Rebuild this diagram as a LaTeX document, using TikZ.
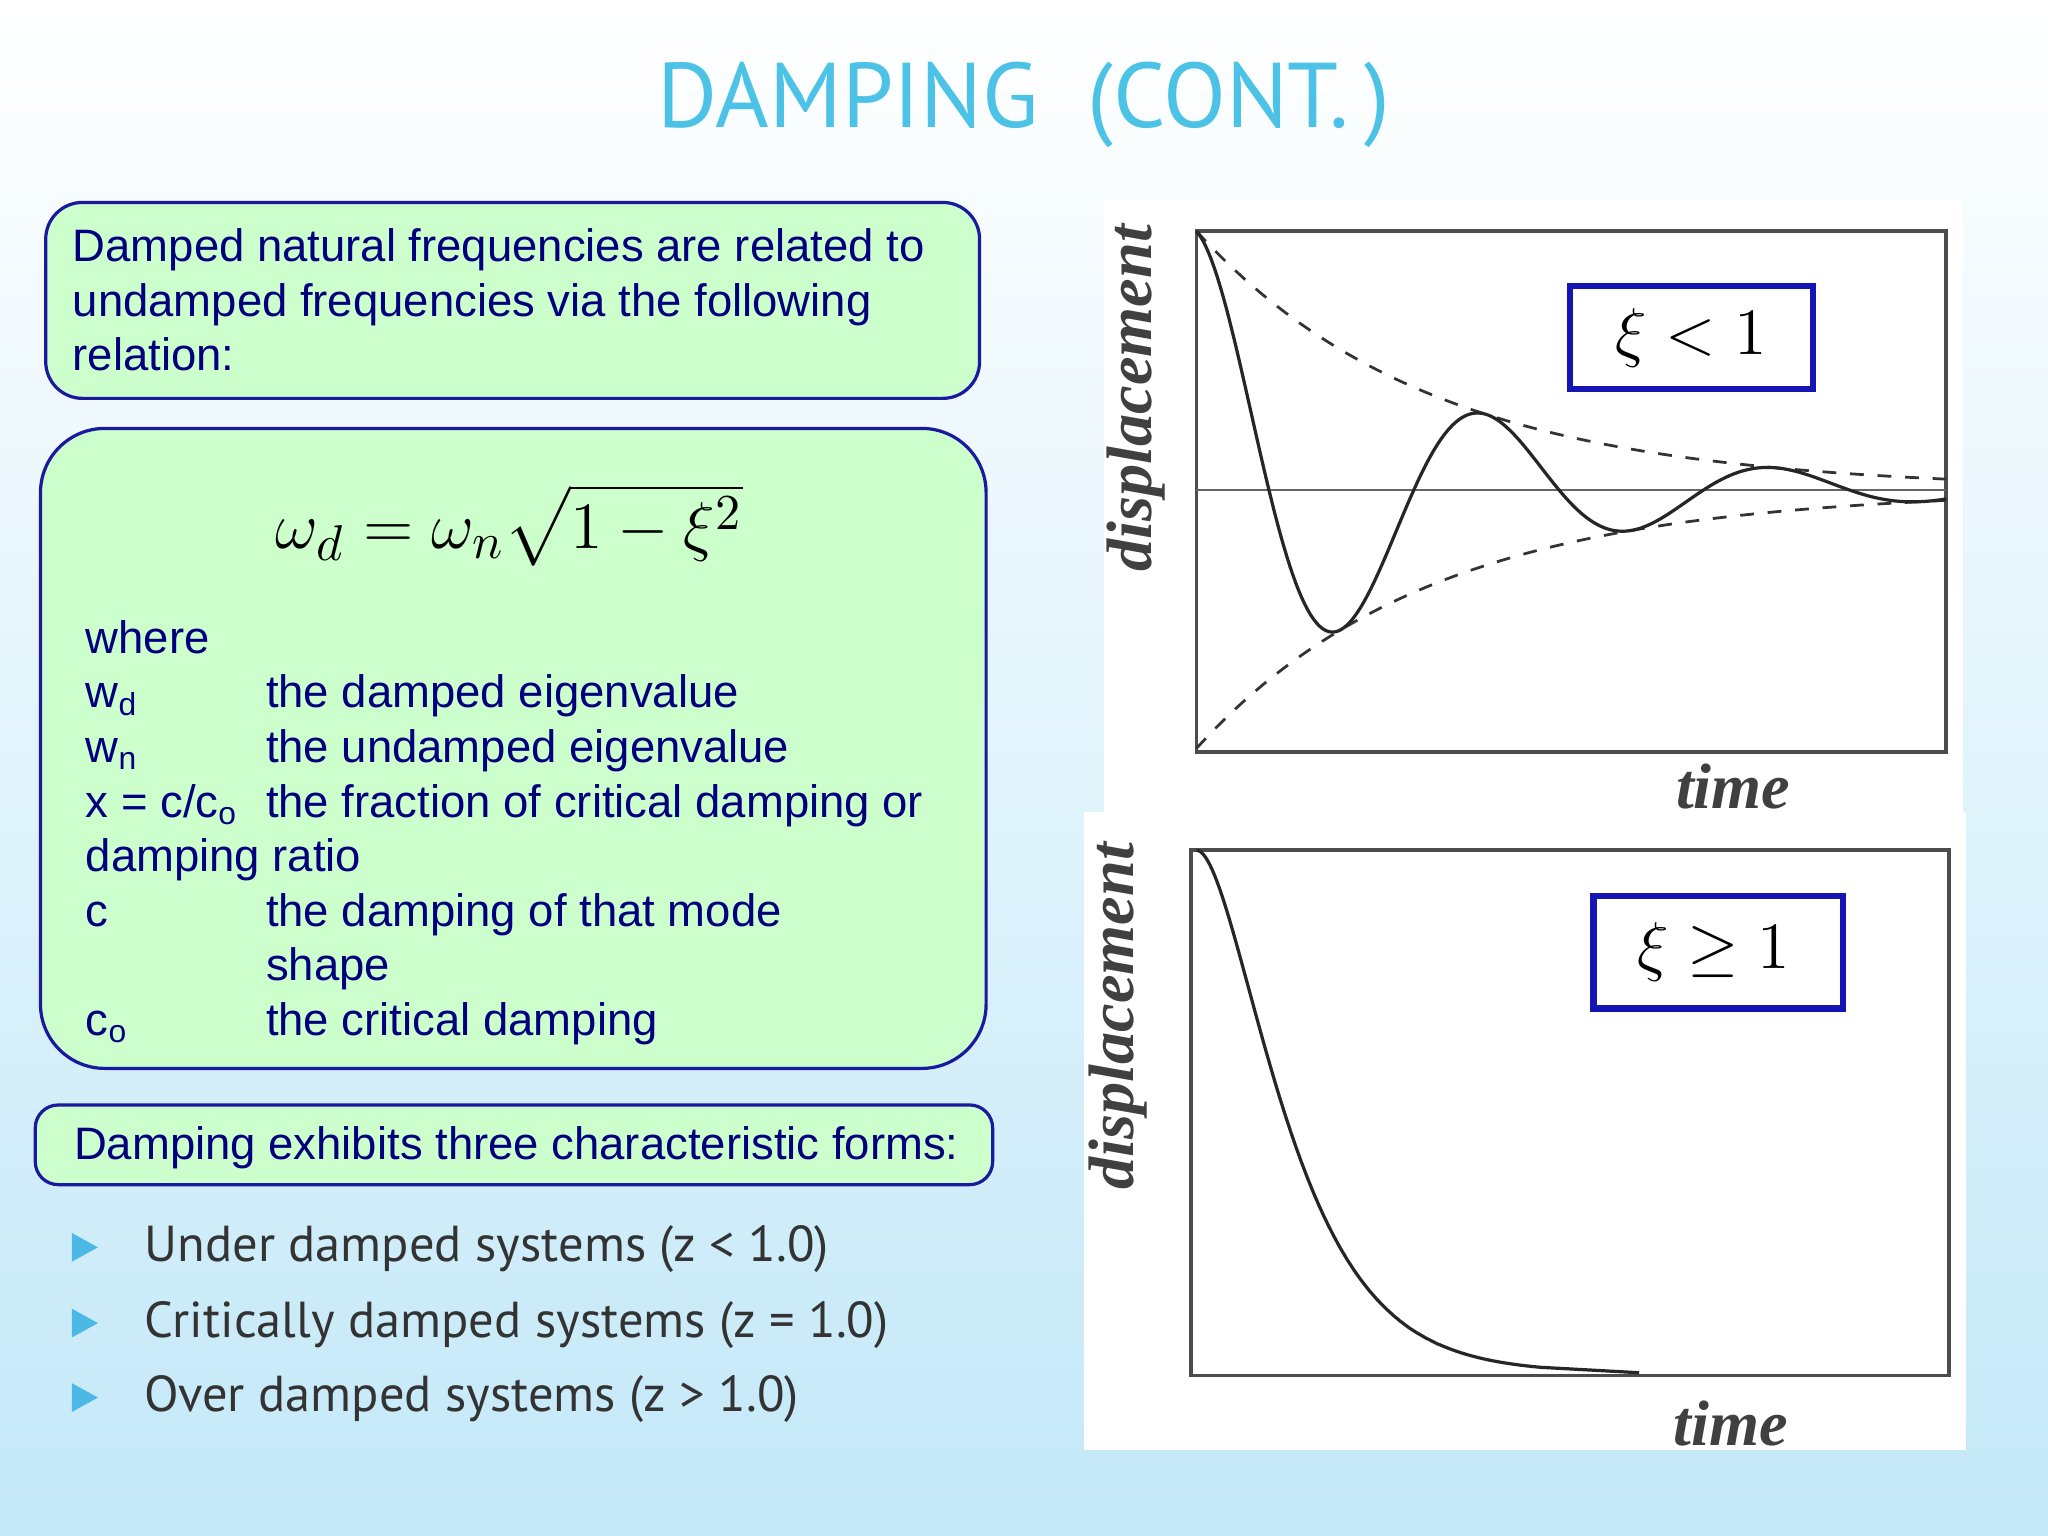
\documentclass[tikz,border=0pt]{standalone}
\usepackage{fontspec}
\setmainfont{Liberation Sans}
\newfontfamily\ptsans{PT Sans}
\newfontfamily\serifx{Liberation Serif}
\usepackage{amsmath}
\begin{document}
\begin{tikzpicture}[x=0.01cm,y=-0.01cm]
\definecolor{navy}{HTML}{00007F}
\definecolor{lgreen}{HTML}{CCFFCC}
\definecolor{bbord}{HTML}{1A1AA0}
\definecolor{ttl}{HTML}{4CC3E6}
\definecolor{bgb}{HTML}{C3E8F8}
\definecolor{tri}{HTML}{4CB8E6}
\definecolor{gtxt}{HTML}{333333}
\tikzset{gbox/.style={draw=bbord,line width=0.7pt,fill=lgreen,rounded corners=8pt},
 tx/.style={anchor=base west,text=navy,font=\fontsize{9.9}{12}\selectfont,inner sep=0},
 bul/.style={anchor=base west,text=gtxt,font=\ptsans\fontsize{11}{13}\selectfont,inner sep=0},
 lab/.style={draw=bbord!80!blue,line width=1.4pt,fill=white},
 axl/.style={font=\serifx\itshape\bfseries\fontsize{14}{16}\selectfont,text=black!75}}
\useasboundingbox (0,0) rectangle (1568,1176);
\shade[top color=white,bottom color=bgb] (0,0) rectangle (1568,1176);
\node[text=ttl,font=\ptsans\fontsize{20}{24}\selectfont] (title) at (784,80) {DAMPING\ \ (CONT.\,)};
% box 1
\draw[gbox] (35,155) rectangle (750,305);
\node[tx] (t1) at (55,200) {Damped natural frequencies are related to};
\node[tx] (t2) at (55,242) {undamped frequencies via the following};
\node[tx] (t3) at (55,284) {relation:};
% box 2
\draw[gbox,rounded corners=14pt] (31,328) rectangle (755,818);
\node[font=\serifx\fontsize{15}{18}\selectfont] (eq) at (390,402) {$\omega_d=\omega_n\sqrt{1-\xi^2}$};
\node[tx] (w0) at (65,500) {where};
\node[tx] (w1) at (65,542) {w\textsubscript{d}};
\node[tx] (d1) at (203,542) {the damped eigenvalue};
\node[tx] (w2) at (65,584) {w\textsubscript{n}};
\node[tx] (d2) at (203,584) {the undamped eigenvalue};
\node[tx] (w3) at (65,626) {x = c/c\textsubscript{o}};
\node[tx] (d3) at (203,626) {the fraction of critical damping or};
\node[tx] (w4) at (65,667) {damping ratio};
\node[tx] (w5) at (65,709) {c};
\node[tx] (d5) at (203,709) {the damping of that mode};
\node[tx] (d6) at (203,751) {shape};
\node[tx] (w7) at (65,793) {c\textsubscript{o}};
\node[tx] (d7) at (203,793) {the critical damping};
% box 3
\draw[gbox,rounded corners=5pt] (27,846) rectangle (760,907);
\node[tx] (t4) at (56,888) {Damping exhibits three characteristic forms:};
% bullets
\foreach \y/\s [count=\i] in {955/{Under damped systems (z < 1.0)},1013/{Critically damped systems (z = 1.0)},1070/{Over damped systems (z > 1.0)}}{
 \fill[tri] (55,\y-11) -- (75,\y) -- (55,\y+11) -- cycle;
 \node[bul] (b\i) at (110,\y+11) {\s};}
% top plot
\fill[white] (845,152) rectangle (1503,622);
\draw[black!70,line width=0.8pt] (916,177) rectangle (1490,576);
\draw[black!60] (916,375) -- (1490,375);
\draw[black!80,dashed,line width=0.6pt] plot[domain=0:574,samples=80] ({916+\x},{375-198*exp(-\x/180)});
\draw[black!80,dashed,line width=0.6pt] plot[domain=0:574,samples=80] ({916+\x},{375+198*exp(-\x/180)});
\draw[black!85,line width=0.7pt] plot[domain=0:574,samples=250] ({916+\x},{375-198*exp(-\x/180)*cos(\x/222*360)});
\draw[lab] (1202,219) rectangle (1388,298);
\node[font=\serifx\fontsize{15}{17}\selectfont] (l1) at (1295,259) {$\xi<1$};
\node[axl,rotate=90] (dy1) at (870,305) {displacement};
\node[axl] (tm1) at (1327,602) {time};
% bottom plot
\fill[white] (830,622) rectangle (1505,1110);
\draw[black!70,line width=0.8pt] (912,651) rectangle (1492,1053);
\draw[black!85,line width=0.7pt] plot[domain=0:264,samples=150] ({916+\x},{651+400*(1-(1+\x/40)*exp(-\x/40))}) -- (1255,1051);
\draw[lab] (1220,686) rectangle (1411,772);
\node[font=\serifx\fontsize{15}{17}\selectfont] (l2) at (1312,729) {$\xi\geq 1$};
\node[axl,rotate=90] (dy2) at (856,778) {displacement};
\node[axl] (tm2) at (1325,1090) {time};
\end{tikzpicture}
\end{document}
